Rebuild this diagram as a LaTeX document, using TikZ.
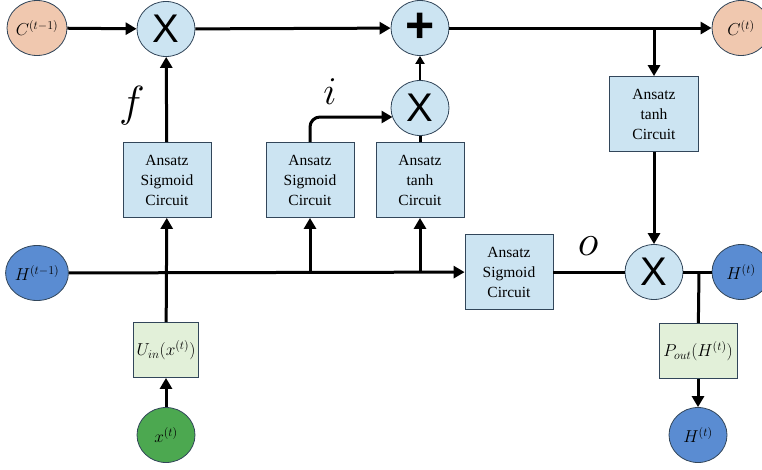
\documentclass[tikz,border=0pt]{standalone}
\usepackage{graphicx}
\usepackage{fontspec}
\setmainfont{Liberation Serif}
\newfontfamily\arialf{Liberation Sans}
\usetikzlibrary{arrows.meta,shapes.geometric}
\definecolor{boxblue}{RGB}{204,228,242}
\definecolor{edgec}{RGB}{50,70,90}
\definecolor{peach}{RGB}{240,200,175}
\definecolor{hblue}{RGB}{90,140,210}
\definecolor{xgreen}{RGB}{76,168,80}
\definecolor{lgreen}{RGB}{226,240,217}
\tikzset{
  circ/.style={ellipse,draw=edgec,line width=0.8pt,minimum width=58pt,minimum height=55pt,inner sep=0pt},
  opc/.style={circ,fill=boxblue,font=\arialf\fontsize{40}{40}\selectfont},
  ansatz/.style={rectangle,draw=edgec,line width=0.8pt,fill=boxblue,minimum width=88pt,minimum height=75pt,inner sep=0pt,align=center,font=\fontsize{15.5}{20}\selectfont},
  gbox/.style={rectangle,draw=edgec,line width=0.8pt,fill=lgreen,minimum height=55pt,inner sep=0pt,font=\fontsize{17.28}{17}\selectfont},
  lbl/.style={font=\fontsize{17.28}{17}\selectfont},
  wire/.style={line width=3pt},
  arr/.style={line width=3pt,-{Triangle[length=11pt,width=12pt]}},
  biglbl/.style={font=\fontsize{20.74}{21}\selectfont},
}
\begin{document}
\begin{tikzpicture}[x=1pt,y=-1pt]
\useasboundingbox (0,0) rectangle (762,469);
% nodes
\node[circ,fill=peach,lbl] (cprev) at (37,28) {$C^{(t-1)}$};
\node[opc] (x1) at (166,29) {X};
\node[opc,font=\arialf\bfseries\fontsize{50}{50}\selectfont] (plus) at (420,28) {+};
\node[circ,fill=peach,lbl] (cnext) at (741,28) {$C^{(t)}$};
\node[opc] (x2) at (420,108) {X};
\node[ansatz] (s1) at (167,180) {Ansatz\\Sigmoid\\Circuit};
\node[ansatz] (s2) at (310,180) {Ansatz\\Sigmoid\\Circuit};
\node[ansatz] (t1) at (420,180) {Ansatz\\tanh\\Circuit};
\node[ansatz,minimum width=89pt] (t2) at (654,114) {Ansatz\\tanh\\Circuit};
\node[circ,fill=hblue,lbl] (hprev) at (37,273) {$H^{(t-1)}$};
\node[ansatz] (s3) at (509,272) {Ansatz\\Sigmoid\\Circuit};
\node[opc] (x3) at (654,272) {X};
\node[circ,fill=hblue,lbl] (hnext) at (741,272) {$H^{(t)}$};
\node[gbox,minimum width=65pt] (uin) at (166,350) {$U_{in}(x^{(t)})$};
\node[gbox,minimum width=78pt] (pout) at (698,351) {$P_{out}(H^{(t)})$};
\node[circ,fill=xgreen,lbl] (xt) at (166,435) {$x^{(t)}$};
\node[circ,fill=hblue,lbl] (hout) at (698,435) {$H^{(t)}$};
% labels
\node[biglbl] (flab) at (132,106) {\scalebox{2.1}{$f$}};
\node[biglbl] (ilab) at (330,92) {\scalebox{1.9}{$i$}};
\node[biglbl] (olab) at (588,246) {\scalebox{2.1}{$o$}};
% junctions
\coordinate (j2) at (310,273);
\coordinate (j3) at (420,273);
\coordinate (jc) at (654,28);
\coordinate (jh) at (699,272);
\coordinate (ihit) at (392.5,117);
% connectors
\draw[arr] (cprev) -- (x1);
\draw[arr] (x1) -- (plus);
\draw[arr] (plus) -- (cnext);
\draw[arr] (jc) -- (t2);
\draw[arr] (t2) -- (x3);
\draw[arr] (s1) -- (x1);
\draw[wire] (t1) -- (x2);
\draw[line width=2pt,-{Triangle[length=8pt,width=9pt]}] (x2) -- (plus);
\draw[arr,rounded corners=10pt] (s2.north) |- (ihit);
\draw[arr] (hprev) -- (s3);
\draw[arr] (uin) -- (s1);
\draw[arr] (j2) -- (s2);
\draw[arr] (j3) -- (t1);
\draw[wire] (s3) -- (x3);
\draw[wire] (x3) -- (hnext);
\draw[wire] (jh) -- (pout);
\draw[arr] (pout) -- (hout);
\draw[arr] (xt) -- (uin);
\end{tikzpicture}
\end{document}
